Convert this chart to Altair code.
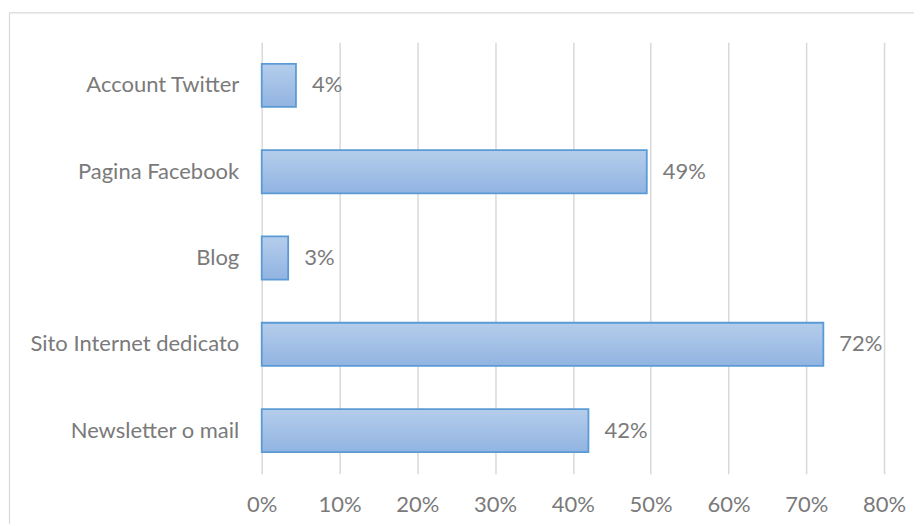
import altair as alt
import pandas as pd

categories = ["Account Twitter", "Pagina Facebook", "Blog", "Sito Internet dedicato", "Newsletter o mail"]
values = [0.044, 0.495, 0.034, 0.722, 0.42]
labels = ["4%", "49%", "3%", "72%", "42%"]

df = pd.DataFrame({"cat": categories, "val": values, "lab": labels})

FONT = "Lato"
TXT = "#7a7a7a"
FS = 22

frame = alt.Chart(pd.DataFrame({"a": [0]})).mark_rect(
    fill=None, stroke="#d9d9d9", strokeWidth=1.2
).encode(
    x=alt.value(-252.5), x2=alt.value(700), y=alt.value(-29.5), y2=alt.value(600)
)

y = alt.Y("cat:N", sort=categories, title=None,
          scale=alt.Scale(paddingInner=0.5, paddingOuter=0.25),
          axis=alt.Axis(domain=False, ticks=False, labelPadding=23, labelFont=FONT,
                        labelFontSize=FS, labelColor=TXT, grid=False, labelLimit=400))
x = alt.X("val:Q", title=None,
          scale=alt.Scale(domain=[0, 0.8], nice=False),
          axis=alt.Axis(values=[0, 0.1, 0.2, 0.3, 0.4, 0.5, 0.6, 0.7, 0.8], format=".0%",
                        domain=False, ticks=False, labelPadding=21, labelFont=FONT,
                        labelFontSize=FS, labelColor=TXT, grid=True,
                        gridColor="#d9d9d9", gridWidth=1.5, labelFlush=False))

bars = alt.Chart(df).mark_bar(
    color=alt.Gradient(gradient="linear",
                       stops=[alt.GradientStop(color="#b5cdeb", offset=0),
                              alt.GradientStop(color="#91b4e2", offset=1)],
                       x1=0, x2=0, y1=0, y2=1),
    stroke="#5b9bd5", strokeWidth=1.8
).encode(x=x, y=y)

text = alt.Chart(df).mark_text(
    align="left", baseline="middle", dx=16, font=FONT, fontSize=FS, color=TXT
).encode(x="val:Q", y=alt.Y("cat:N", sort=categories), text="lab:N")

chart = alt.layer(frame, bars, text).properties(
    width=623, height=432,
    autosize=alt.AutoSizeParams(type="none"),
    padding={"left": 254, "top": 34, "right": 30, "bottom": 50},
    background="white",
).configure_view(stroke=None)

chart.save("out.html", embed_options={"renderer": "svg", "actions": False})
